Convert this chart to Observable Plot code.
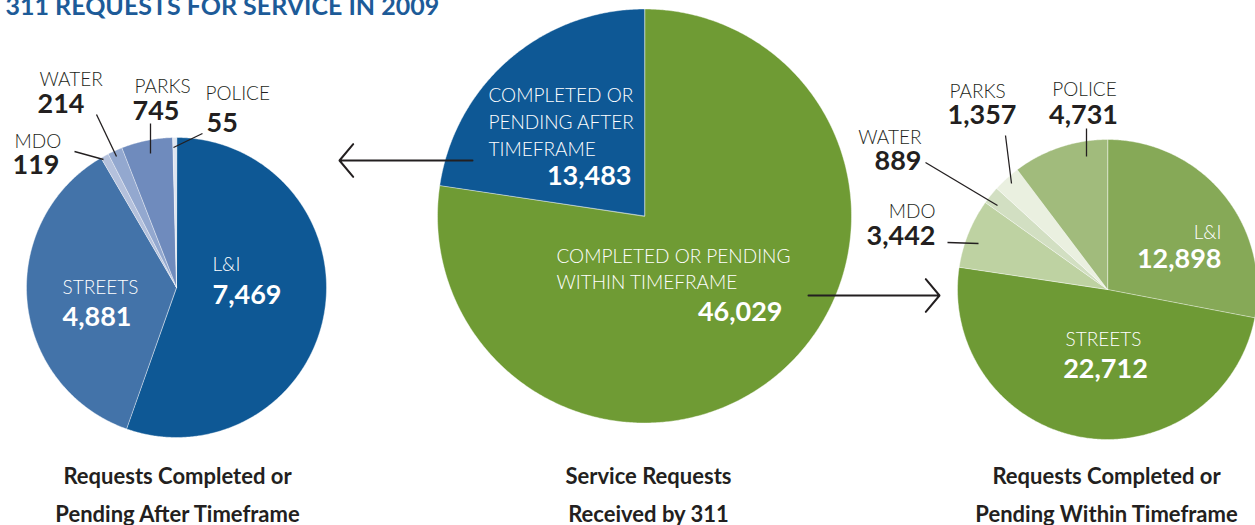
<!DOCTYPE html>
<html>
<head>
<meta charset="utf-8">
<script src="https://cdn.jsdelivr.net/npm/d3@7"></script>
<script src="https://cdn.jsdelivr.net/npm/@observablehq/plot@0.6"></script>
<style>
  html, body { margin: 0; padding: 0; background: #fff; overflow: hidden; }
  #chart svg { display: block; }
</style>
</head>
<body>
<div id="chart"></div>
<script>
// ---------------- DATA ----------------
const title = "311 REQUESTS FOR SERVICE IN 2009";
const departments = ["L&I", "STREETS", "MDO", "WATER", "PARKS", "POLICE"];
const afterTimeframe = [7469, 4881, 119, 214, 745, 55];       // left pie
const withinTimeframe = [12898, 22712, 3442, 889, 1357, 4731]; // right pie
const statusLabels = ["COMPLETED OR PENDING WITHIN TIMEFRAME", "COMPLETED OR PENDING AFTER TIMEFRAME"];
const statusValues = [46029, 13483];                            // center pie
const pieTitles = [
  ["Requests Completed or", "Pending After Timeframe"],
  ["Service Requests", "Received by 311"],
  ["Requests Completed or", "Pending Within Timeframe"]
];

// ---------------- STYLE / LAYOUT ----------------
const W = 1255, H = 525;
const dark = "#231f20";
const font = "Lato, 'Open Sans', sans-serif";
const blueColors = ["#0e5895", "#4373a9", "#b4c1dc", "#93a8cf", "#6f8bbd", "#dfe5f0"];
const greenColors = ["#86a957", "#6e9a35", "#bed2a2", "#d2dfc2", "#eaf0e0", "#a1bb7c"];
const statusColors = ["#6f9b34", "#0e5895"];
const nameSize = 19, valueSize = 27, titleSize = 22;

const pies = [
  {id: "after", cx: 176, cy: 287, r: 150},
  {id: "total", cx: 644, cy: 215.5, r: 207},
  {id: "within", cx: 1107, cy: 289, r: 150}
];

// slice label layout: [nameX, nameY, valueX, valueY, anchor, inside]
const afterLabelPos = [
  [212, 270, 212, 303, "start", true],
  [62, 293, 62, 325, "start", true],
  [14, 147, 12, 173, "start", false],
  [39, 85, 37, 112, "start", false],
  [134, 92, 132, 119, "start", false],
  [205, 99, 206, 131, "start", false]
];
const withinLabelPos = [
  [1221, 238, 1221, 267, "end", true],
  [1103, 345, 1105, 377, "middle", true],
  [935, 217, 935, 244, "end", false],
  [921, 143, 921, 169, "end", false],
  [949, 97, 947, 123, "start", false],
  [1084, 95, 1083, 123, "middle", false]
];
// center pie: name lines, value position
const statusLabelPos = [
  {lines: [[556, 262], [556, 288]], split: [20], value: [782, 320]},
  {lines: [[488, 101], [488, 128], [488, 155]], split: [12, 26], value: [631, 184]}
];
const leaders = [ // annotation leader lines
  {x1: 74, y1: 151, x2: 103, y2: 159},
  {x1: 96, y1: 114, x2: 116, y2: 156},
  {x1: 150, y1: 123, x2: 150, y2: 153},
  {x1: 202, y1: 133, x2: 173, y2: 147},
  {x1: 947, y1: 242, x2: 978, y2: 243},
  {x1: 925, y1: 162, x2: 997, y2: 205},
  {x1: 1005, y1: 135, x2: 1011, y2: 183},
  {x1: 1086, y1: 128, x2: 1086, y2: 156}
];
const arrows = [
  {x1: 472, y1: 160, x2: 339, y2: 160},
  {x1: 808, y1: 295, x2: 939, y2: 295}
];
const titleX = [177, 648, 1106];
const titleY = [483, 521];

// ---------------- BUILD ----------------
const fmt = d3.format(",");
const pieGen = d3.pie().sort(null).value(d => d.value);

function slicePoints(pie, names, values, colors) {
  const arcs = pieGen(values.map((v, i) => ({name: names[i], value: v, color: colors[i]})));
  const pts = [];
  arcs.forEach((a, i) => {
    const id = pie.id + "-" + i;
    const color = a.data.color;
    pts.push({id, color, x: pie.cx, y: pie.cy});
    const n = Math.max(2, Math.ceil((a.endAngle - a.startAngle) / (Math.PI / 360)));
    for (let k = 0; k <= n; k++) {
      const t = a.startAngle + (a.endAngle - a.startAngle) * k / n;
      pts.push({id, color, x: pie.cx + pie.r * Math.sin(t), y: pie.cy - pie.r * Math.cos(t)});
    }
  });
  return pts;
}

const polys = [
  ...slicePoints(pies[0], departments, afterTimeframe, blueColors),
  ...slicePoints(pies[1], statusLabels, statusValues, statusColors),
  ...slicePoints(pies[2], departments, withinTimeframe, greenColors)
];

// text rows
const texts = [];
function addDept(values, pos) {
  values.forEach((v, i) => {
    const [nx, ny, vx, vy, anchor, inside] = pos[i];
    const fill = inside ? "#ffffff" : dark;
    texts.push({x: nx, y: ny, text: departments[i], anchor, weight: "light", size: nameSize, fill});
    texts.push({x: vx, y: vy, text: fmt(v), anchor, weight: "bold", size: valueSize, fill});
  });
}
addDept(afterTimeframe, afterLabelPos);
addDept(withinTimeframe, withinLabelPos);
statusLabels.forEach((label, i) => {
  const p = statusLabelPos[i];
  const cuts = [0, ...p.split, label.length];
  p.lines.forEach(([x, y], j) => {
    texts.push({x, y, text: label.slice(cuts[j], cuts[j + 1]).trim(), anchor: "start", weight: "light", size: nameSize, fill: "#ffffff"});
  });
  texts.push({x: p.value[0], y: p.value[1], text: fmt(statusValues[i]), anchor: "end", weight: "bold", size: valueSize, fill: "#ffffff"});
});
pieTitles.forEach((lines, i) => {
  lines.forEach((line, j) => {
    texts.push({x: titleX[i], y: titleY[j], text: line, anchor: "middle", weight: "title", size: titleSize, fill: dark});
  });
});

function textMarks() {
  const marks = [];
  for (const anchor of ["start", "middle", "end"]) {
    for (const [weight, fw] of [["light", 300], ["bold", 700], ["title", 700]]) {
      const rows = texts.filter(d => d.anchor === anchor && d.weight === weight);
      if (!rows.length) continue;
      marks.push(Plot.text(rows, {
        x: "x", y: "y", text: "text", fill: "fill", fontSize: "size",
        textAnchor: anchor, lineAnchor: "bottom", fontWeight: fw, fontFamily: font
      }));
    }
  }
  return marks;
}

const chart = Plot.plot({
  width: W, height: H,
  margin: 0,
  x: {domain: [0, W], range: [0, W], axis: null},
  y: {domain: [0, H], range: [0, H], axis: null},
  color: {type: "identity"},
  style: {fontFamily: font, background: "#fff"},
  marks: [
    Plot.line(polys, {x: "x", y: "y", z: "id", fill: "color", stroke: "#ffffff", strokeWidth: 0.7, strokeOpacity: 0.6, curve: "linear-closed"}),
    Plot.link(leaders, {x1: "x1", y1: "y1", x2: "x2", y2: "y2", stroke: dark, strokeWidth: 1.3}),
    Plot.arrow(arrows, {x1: "x1", y1: "y1", x2: "x2", y2: "y2", stroke: dark, strokeWidth: 2, headLength: 16, headAngle: 100}),
    ...textMarks(),
    Plot.text([title], {x: () => 5, y: () => 14, text: d => d, textAnchor: "start", lineAnchor: "bottom", fill: "#1d5b98", fontSize: 25, fontWeight: 700, fontFamily: font})
  ]
});
document.getElementById("chart").appendChild(chart);
</script>
</body>
</html>
